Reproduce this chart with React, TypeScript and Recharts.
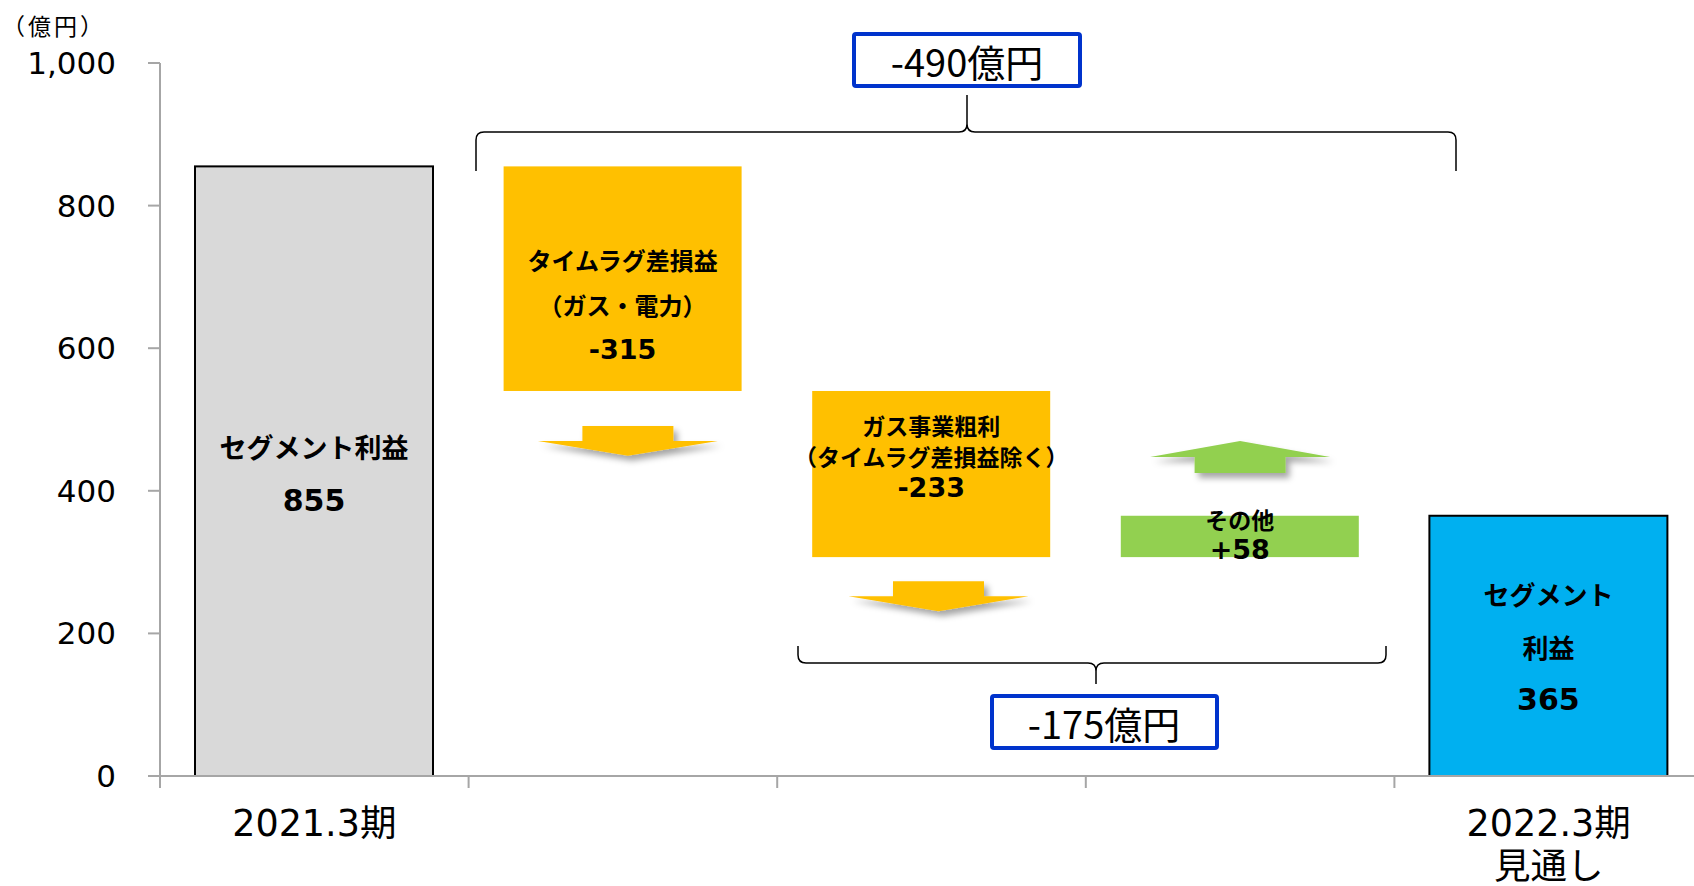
import React from "react"
import { BarChart, Bar, XAxis, YAxis, ReferenceArea } from "recharts"

// categories along the x axis (first and last are totals, middle ones are changes)
const categories = ["2021.3期", "タイムラグ差損益", "ガス事業粗利", "その他", "2022.3期見通し"]
const startProfit = 855
const changes = [-315, -233, 58]
const endProfit = 365

const yTicks = [0, 200, 400, 600, 800, 1000]
const xTickLines = [["2021.3期"], [], [], [], ["2022.3期", "見通し"]]
const barTexts = [
  ["セグメント利益", "855"],
  ["タイムラグ差損益", "（ガス・電力）", "-315"],
  ["ガス事業粗利", "（タイムラグ差損益除く）", "-233"],
  ["その他", "+58"],
  ["セグメント", "利益", "365"],
]
// decorative arrows next to each change step, from/to in 億円
const arrowHigh = [491, 273, 470]
const arrowLow = [449, 231, 425]
const unitLabel = "（億円）"

// build the floating ranges of the waterfall
const rows = (() => {
  const out: { name: string; range: [number, number] }[] = [{ name: categories[0], range: [0, startProfit] }]
  let level = startProfit
  changes.forEach((c, i) => {
    const next = level + c
    out.push({ name: categories[i + 1], range: [Math.min(level, next), Math.max(level, next)] })
    level = next
  })
  out.push({ name: categories[categories.length - 1], range: [0, endProfit] })
  return out
})()

const totalLabel = `${endProfit - startProfit}億円`
const gasLabel = `${changes[1] + changes[2]}億円`

const CHART_W = 1703
const CHART_H = 886
const Y_AXIS_W = 160
const PLOT_W = CHART_W - Y_AXIS_W
const AXIS_GRAY = "#A6A6A6"
const LATIN = "'DejaVu Sans', 'Noto Sans CJK JP', sans-serif"
const CJK = "'Noto Sans CJK JP', sans-serif"

const BAR_FILL = ["#D9D9D9", "#FFC000", "#FFC000", "#92D050", "#00B0F0"]
const BAR_STROKE = ["#000", "none", "none", "none", "#000"]
const LABEL_STYLE = [
  { size: 27, numSize: 30, gap: 54, dy: 2 },
  { size: 24, numSize: 27, gap: 45, dy: 26 },
  { size: 23, numSize: 27, gap: 31.5, dy: -18 },
  { size: 23, numSize: 27, gap: 31, dy: -2 },
  { size: 26, numSize: 30, gap: 53, dy: 1 },
]
const ARROW_GEOM = [
  { dx: 5, head: 180, stem: 91 },
  { dx: 7, head: 180, stem: 91 },
  { dx: 0, head: 180, stem: 91 },
]

function WaterfallBar(props: any) {
  const { x, y, width, height, index } = props
  const st = LABEL_STYLE[index]
  const lines = barTexts[index]
  const cx = x + width / 2
  const mid = y + height / 2 + st.dy
  const top = mid - ((lines.length - 1) * st.gap) / 2
  return (
    <g>
      <rect
        x={x}
        y={y}
        width={width}
        height={height}
        fill={BAR_FILL[index]}
        stroke={BAR_STROKE[index]}
        strokeWidth={2}
      />
      {lines.map((t, i) => {
        const isNum = i === lines.length - 1
        return (
          <text
            key={i}
            x={cx}
            y={top + i * st.gap}
            textAnchor="middle"
            dominantBaseline="central"
            fontFamily={isNum ? LATIN : CJK}
            fontWeight="bold"
            fontSize={isNum ? st.numSize : st.size}
            fill="#000"
          >
            {t}
          </text>
        )
      })}
    </g>
  )
}

function Arrow(props: any) {
  const { x, y, width, height, step } = props
  const g = ARROW_GEOM[step]
  const cx = x + width / 2 + g.dx
  const up = changes[step] > 0
  const half = height / 2
  const s = g.stem / 2
  const h = g.head / 2
  const pts = up
    ? [[cx, y], [cx + h, y + half], [cx + s, y + half], [cx + s, y + height], [cx - s, y + height], [cx - s, y + half], [cx - h, y + half]]
    : [[cx - s, y], [cx + s, y], [cx + s, y + half], [cx + h, y + half], [cx, y + height], [cx - h, y + half], [cx - s, y + half]]
  const id = `arrowShadow${step}`
  return (
    <g>
      <defs>
        <filter id={id} x="-20%" y="-60%" width="140%" height="240%">
          <feDropShadow dx={4} dy={5} stdDeviation={3} floodColor="#000" floodOpacity={0.35} />
        </filter>
      </defs>
      <polygon points={pts.map((p) => p.join(",")).join(" ")} fill={BAR_FILL[step + 1]} filter={`url(#${id})`} />
    </g>
  )
}

function CategoryTick(props: any) {
  const { x, y, index } = props
  const lines = xTickLines[index] ?? []
  const band = PLOT_W / categories.length
  const bx = x - band / 2
  return (
    <g>
      <line x1={bx} y1={y} x2={bx} y2={y + 12} stroke={AXIS_GRAY} strokeWidth={2} />
      {index === categories.length - 1 && (
        <line x1={x + band / 2} y1={y} x2={x + band / 2} y2={y + 12} stroke={AXIS_GRAY} strokeWidth={2} />
      )}
      {lines.map((t, i) => (
        <text
          key={i}
          x={x}
          y={y + 47 + i * 43}
          textAnchor="middle"
          dominantBaseline="central"
          fontFamily={LATIN}
          fontSize={36.5}
          fill="#000"
        >
          {t}
        </text>
      ))}
    </g>
  )
}

export default function App() {
  return (
    <div
      style={{
        position: "fixed",
        left: 0,
        top: 0,
        width: 1694,
        height: 886,
        overflow: "hidden",
        background: "#fff",
      }}
    >
      <BarChart
        width={CHART_W}
        height={CHART_H}
        data={rows}
        margin={{ top: 63, right: 0, bottom: 0, left: 0 }}
        barSize={238}
      >
        <YAxis
          type="number"
          domain={[0, 1000]}
          ticks={yTicks}
          width={Y_AXIS_W}
          axisLine={{ stroke: AXIS_GRAY, strokeWidth: 2 }}
          tickLine={{ stroke: AXIS_GRAY, strokeWidth: 2 }}
          tickSize={12}
          tickMargin={32}
          tickFormatter={(v: number) => v.toLocaleString("en-US")}
          tick={{ fill: "#000", fontSize: 31, fontFamily: LATIN }}
        />
        <XAxis
          dataKey="name"
          interval={0}
          height={110}
          axisLine={{ stroke: AXIS_GRAY, strokeWidth: 2 }}
          tickLine={false}
          tickSize={0}
          tickMargin={0}
          tick={<CategoryTick />}
        />
        <Bar dataKey="range" isAnimationActive={false} shape={<WaterfallBar />} />
        {arrowHigh.map((hi, i) => (
          <ReferenceArea
            key={i}
            x1={categories[i + 1]}
            x2={categories[i + 1]}
            y1={arrowLow[i]}
            y2={hi}
            ifOverflow="visible"
            shape={(p: any) => <Arrow {...p} step={i} />}
          />
        ))}
      </BarChart>

      <svg
        width={1694}
        height={886}
        style={{ position: "absolute", left: 0, top: 0, pointerEvents: "none" }}
      >
        <text x={2} y={25} dominantBaseline="central" fontSize={23} letterSpacing={3} fontFamily={CJK} fill="#000">
          {unitLabel}
        </text>

        <path
          d="M476 171 L476 140 Q476 132 484 132 L959 132 Q967 132 967 124 L967 95 M967 124 Q967 132 975 132 L1448 132 Q1456 132 1456 140 L1456 171"
          fill="none"
          stroke="#000"
          strokeWidth={1.5}
        />
        <rect x={854} y={34} width={226} height={52} rx={2} fill="#fff" stroke="#0033CC" strokeWidth={4} />
        <text x={967} y={60} textAnchor="middle" dominantBaseline="central" fontSize={38} fontFamily={CJK} fill="#000">
          {totalLabel}
        </text>

        <path
          d="M798 646 L798 655 Q798 663 806 663 L1088 663 Q1096 663 1096 671 L1096 684 M1096 671 Q1096 663 1104 663 L1378 663 Q1386 663 1386 655 L1386 646"
          fill="none"
          stroke="#000"
          strokeWidth={1.5}
        />
        <rect x={992} y={696} width={225} height={52} rx={2} fill="#fff" stroke="#0033CC" strokeWidth={4} />
        <text x={1104} y={722} textAnchor="middle" dominantBaseline="central" fontSize={38} fontFamily={CJK} fill="#000">
          {gasLabel}
        </text>
      </svg>
    </div>
  )
}
